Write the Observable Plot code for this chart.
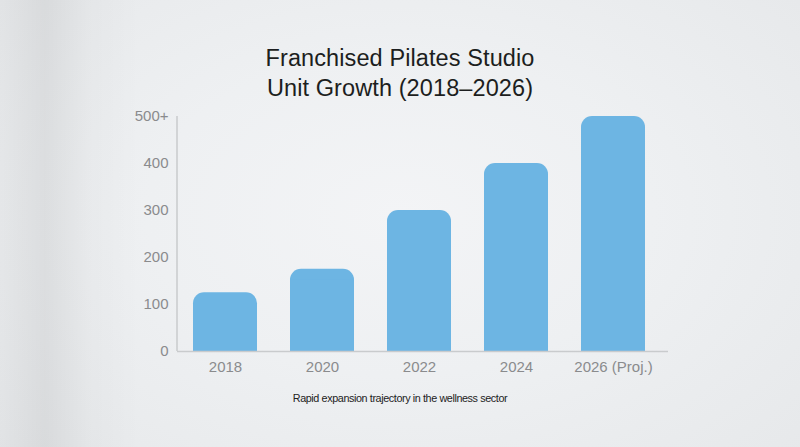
<!DOCTYPE html>
<html>
<head>
<meta charset="utf-8">
<script src="https://cdn.jsdelivr.net/npm/d3@7"></script>
<script src="https://cdn.jsdelivr.net/npm/@observablehq/plot@0.6"></script>
<style>
  html, body { margin: 0; padding: 0; }
  body {
    width: 800px; height: 447px; overflow: hidden;
    font-family: "Liberation Sans", Arial, sans-serif;
    background:
      linear-gradient(to right, rgba(0,0,0,0.025) 0px, rgba(0,0,0,0.065) 45px, rgba(0,0,0,0.02) 90px, rgba(0,0,0,0) 140px),
      radial-gradient(ellipse 70% 80% at 50% 48%, #f3f4f6 0%, #eef0f2 45%, #e6e8ea 100%);
  }
  #title {
    box-sizing: border-box; height: 105px; padding-top: 44.4px;
    text-align: center; font-size: 23.5px; line-height: 29.5px;
    color: #1c1e20; letter-spacing: 0.1px;
  }
  #chart { height: 280px; }
  #caption {
    margin-top: 7.4px; text-align: center; font-size: 10.8px; line-height: 13px; color: #222;
    letter-spacing: -0.4px;
  }
</style>
</head>
<body>
<div id="title">Franchised Pilates Studio<br>Unit Growth (2018–2026)</div>
<div id="chart"></div>
<div id="caption">Rapid expansion trajectory in the wellness sector</div>
<script>
const categories = ["2018", "2020", "2022", "2024", "2026 (Proj.)"];
const units = [125, 175, 300, 400, 500];
const yTicks = [0, 100, 200, 300, 400, 500];
const yTickLabels = ["0", "100", "200", "300", "400", "500+"];

const data = categories.map((c, i) => ({category: c, units: units[i]}));
const barColor = "#6db5e3";
const axisColor = "#c9cbcd";
const labelColor = "#8a8b8d";

const yAxisLine = (index, scales, values, dimensions) => {
  const y = scales.y;
  const xPos = dimensions.marginLeft;
  const line = document.createElementNS("http://www.w3.org/2000/svg", "line");
  line.setAttribute("x1", xPos);
  line.setAttribute("x2", xPos);
  line.setAttribute("y1", y(0));
  line.setAttribute("y2", y(500));
  line.setAttribute("stroke", axisColor);
  line.setAttribute("stroke-width", 1.5);
  const g = document.createElementNS("http://www.w3.org/2000/svg", "g");
  g.appendChild(line);
  return g;
};

const plot = Plot.plot({
  width: 800,
  height: 280,
  marginLeft: 177,
  marginRight: 132,
  marginTop: 11,
  marginBottom: 34,
  style: {background: "transparent", fontFamily: "Liberation Sans, Arial, sans-serif", fontSize: "15px", overflow: "visible"},
  x: {type: "band", domain: categories, range: [175.5, 662.5], paddingInner: 0.34, paddingOuter: 0.17, label: null},
  y: {domain: [0, 500], label: null},
  marks: [
    Plot.barY(data, {x: "category", y: "units", fill: barColor, rx: 11}),
    Plot.barY(data, {x: "category", y: "units", fill: barColor, insetTop: 11}),
    Plot.ruleY([0], {stroke: axisColor, strokeWidth: 1.5}),
    yAxisLine,
    Plot.axisY(yTicks, {tickSize: 0, tickPadding: 9, tickFormat: (d) => yTickLabels[yTicks.indexOf(d)], fill: labelColor, fontSize: 15, label: null}),
    Plot.axisX({tickSize: 0, tickPadding: 10, fill: labelColor, fontSize: 15, label: null})
  ]
});
document.getElementById("chart").appendChild(plot);
</script>
</body>
</html>
